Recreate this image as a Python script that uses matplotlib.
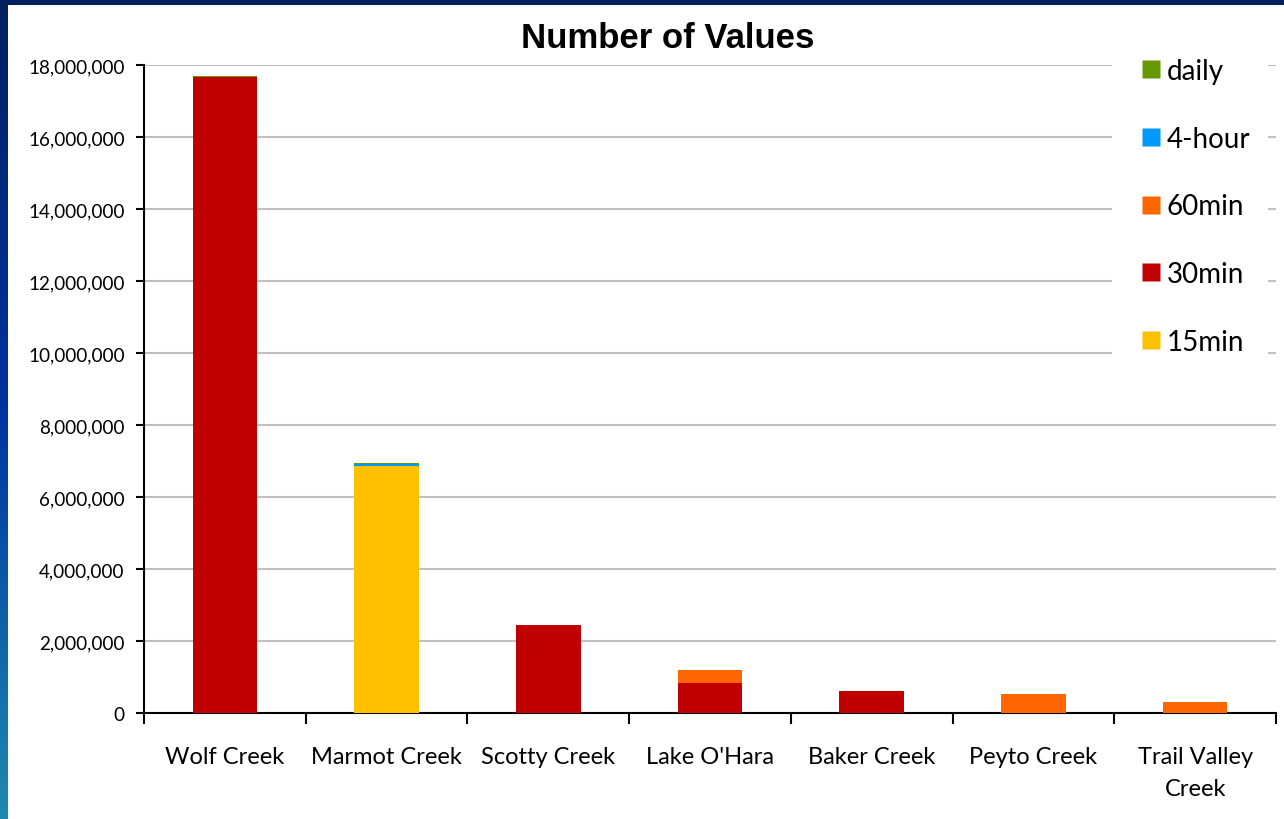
import numpy as np
import matplotlib.pyplot as plt
from matplotlib.colors import LinearSegmentedColormap
from matplotlib.ticker import FuncFormatter, FixedLocator
from matplotlib.lines import Line2D
from matplotlib.patches import Rectangle

# values per site, split by recording interval
sites = ["Wolf Creek", "Marmot Creek", "Scotty Creek", "Lake O'Hara",
         "Baker Creek", "Peyto Creek", "Trail Valley\nCreek"]
min15 = [0, 6850000, 0, 0, 0, 0, 0]
min30 = [17680000, 0, 2440000, 820000, 610000, 0, 0]
min60 = [0, 0, 0, 370000, 0, 540000, 310000]
hour4 = [0, 80000, 0, 0, 0, 0, 0]
daily = [15000, 20000, 0, 0, 0, 0, 0]

series = [("15min", min15, "#ffc000"),
          ("30min", min30, "#c00000"),
          ("60min", min60, "#ff6600"),
          ("4-hour", hour4, "#0099ff"),
          ("daily", daily, "#669900")]

tick_font = "Lato"
W, H = 1284, 820

fig = plt.figure(figsize=(W / 100, H / 100), dpi=100)

# blue slide frame on the top and left edges
top = fig.add_axes([0, 1 - 6 / H, 1, 6 / H])
top.set_facecolor("#002060")
top.set_xticks([])
top.set_yticks([])
for s in top.spines.values():
    s.set_visible(False)

side = fig.add_axes([0, 0, 8 / W, 1])
cmap = LinearSegmentedColormap.from_list("edge", ["#002060", "#0033a0", "#1e8ab0"])
side.imshow(np.linspace(0, 1, 256).reshape(-1, 1), aspect="auto", cmap=cmap,
            extent=[0, 1, 0, 1], origin="upper")
side.axis("off")

ax = fig.add_axes([144 / W, 1 - 714 / H, (1276 - 144) / W, (714 - 66) / H])

x = np.arange(len(sites))
bottom = np.zeros(len(sites))
colors = {}
for name, vals, color in series:
    vals = np.array(vals, dtype=float)
    ax.bar(x, vals, width=0.4, bottom=bottom, color=color, zorder=3,
           edgecolor="none", label=name)
    colors[name] = color
    bottom += vals

ax.set_xlim(-0.5, len(sites) - 0.5)
ax.set_ylim(0, 18000000)
ax.set_yticks(np.arange(0, 18000001, 2000000))
ax.yaxis.set_major_formatter(FuncFormatter(lambda v, p: "{:,.0f}".format(v)))
ax.grid(axis="y", color="#c0c0c0", linewidth=1.5, zorder=0)

ax.set_xticks(x)
ax.set_xticklabels(sites, fontsize=17, family=tick_font, linespacing=1.65)
ax.xaxis.set_minor_locator(FixedLocator(np.arange(-0.5, len(sites), 1)))
ax.tick_params(axis="x", which="major", length=0, pad=24)
ax.tick_params(axis="x", which="minor", length=8, width=1.5, direction="out")
ax.tick_params(axis="y", length=6, width=1.5, pad=8, labelsize=13.6)
for lab in ax.get_yticklabels():
    lab.set_family(tick_font)

for side_name in ["top", "right"]:
    ax.spines[side_name].set_visible(False)
ax.spines["left"].set_linewidth(1.5)
ax.spines["bottom"].set_linewidth(1.5)

fig.text(0.52, 1 - 38 / H, "Number of Values", ha="center", va="center",
         fontsize=25, fontweight="bold", family="Liberation Sans")

# white legend area over the right end of the gridlines
ax.add_patch(Rectangle((1112 / W, 1 - 366 / H), (1268 - 1112) / W, (366 - 50) / H,
                       transform=fig.transFigure, facecolor="white",
                       edgecolor="none", clip_on=False, zorder=4))

# legend listed top to bottom from the last stacked series
order = ["daily", "4-hour", "60min", "30min", "15min"]
legend_handles = [Line2D([], [], marker="s", linestyle="none", markersize=13.5,
                         markerfacecolor=colors[n], markeredgecolor="none")
                  for n in order]
leg = fig.legend(legend_handles, order, loc="upper left",
                 bbox_to_anchor=(1140 / W, 1 - 59 / H), frameon=False,
                 prop={"family": tick_font, "size": 20},
                 handlelength=0.8, handletextpad=0.15, labelspacing=1.5,
                 borderpad=0, borderaxespad=0)
leg.set_zorder(5)

fig.savefig("out.png", dpi=100)
